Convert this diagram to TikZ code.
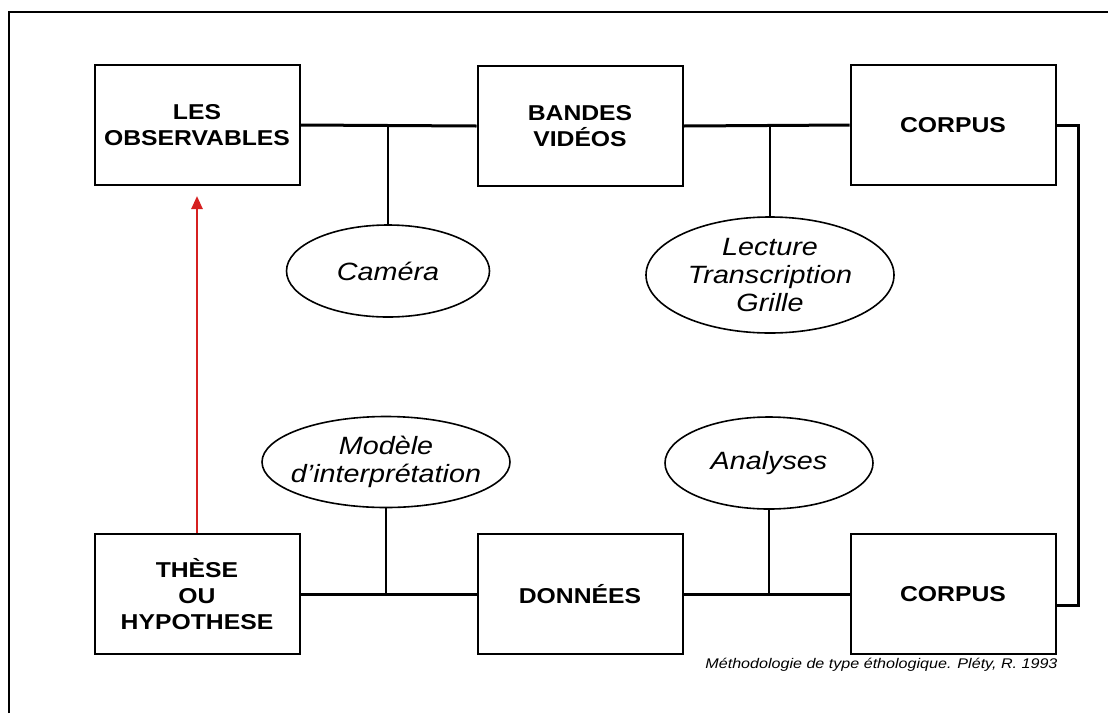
\documentclass[tikz,border=0pt]{standalone}
\usepackage{fontspec}
\setmainfont[FakeStretch=1.15]{Liberation Sans}
\usetikzlibrary{shapes.geometric}
\usetikzlibrary{arrows.meta}
\definecolor{rouge}{RGB}{214,32,32}

\begin{document}
\begin{tikzpicture}[x=1pt,y=-1pt,
  bloc/.style={draw, line width=2pt, minimum width=205pt, minimum height=120pt, inner sep=0pt, align=center, font=\bfseries\fontsize{21.5}{26}\selectfont},
  bulle/.style={draw, ellipse, line width=1.6pt, inner sep=0pt, align=center, font=\itshape\fontsize{25}{28}\selectfont},
  lien/.style={line width=3pt},
  tige/.style={line width=2pt},
  fleche/.style={rouge, line width=2.5pt, -{Triangle[length=13pt,width=11pt]}}]
\useasboundingbox (0,0) rectangle (1108,713);
\draw[line width=1.5pt] (9,713) -- (9,12) -- (1108,12);
% boites
\node[bloc] (obs) at (197,125) {LES\\OBSERVABLES};
\node[bloc] (bandes) at (580,126) {BANDES\\VIDÉOS};
\node[bloc] (corpusA) at (953,125) {CORPUS};
\node[bloc] (these) at (197,594) {THÈSE\\OU\\HYPOTHESE};
\node[bloc] (donnees) at (580,594) {DONNÉES};
\node[bloc] (corpusB) at (953,594) {CORPUS};
% ellipses
\node[bulle, minimum width=203pt, minimum height=92pt] (camera) at (388,271) {Caméra};
\node[bulle, minimum width=248pt, minimum height=116pt, inner ysep=-2pt] (lecture) at (770,275) {Lecture\\Transcription\\Grille};
\node[bulle, minimum width=248pt, minimum height=91pt, inner xsep=-14pt] (modele) at (386,462) {Modèle\\d’interprétation};
\node[bulle, minimum width=208pt, minimum height=92pt] (analyses) at (769,463) {Analyses};
% liens
\foreach \a/\b in {obs/bandes, bandes/corpusA, these/donnees, donnees/corpusB}
  \draw[lien] (\a.east) -- (\b.west);
\foreach \e/\p/\r in {camera/north/obs, lecture/north/obs, modele/south/these, analyses/south/these}
  \draw[tige] (\e.\p) -- (\e.\p |- \r.east);
\draw[lien] (corpusA.east) -- ++(22,0) |- ([yshift=-11pt]corpusB.east);
\draw[fleche] (these.north) -- ([yshift=-10pt]obs.south);
\node[anchor=east, font=\itshape\fontsize{14}{16}\selectfont] (source) at (1061,665) {Méthodologie de type éthologique. Pléty, R. 1993};
\end{tikzpicture}
\end{document}
